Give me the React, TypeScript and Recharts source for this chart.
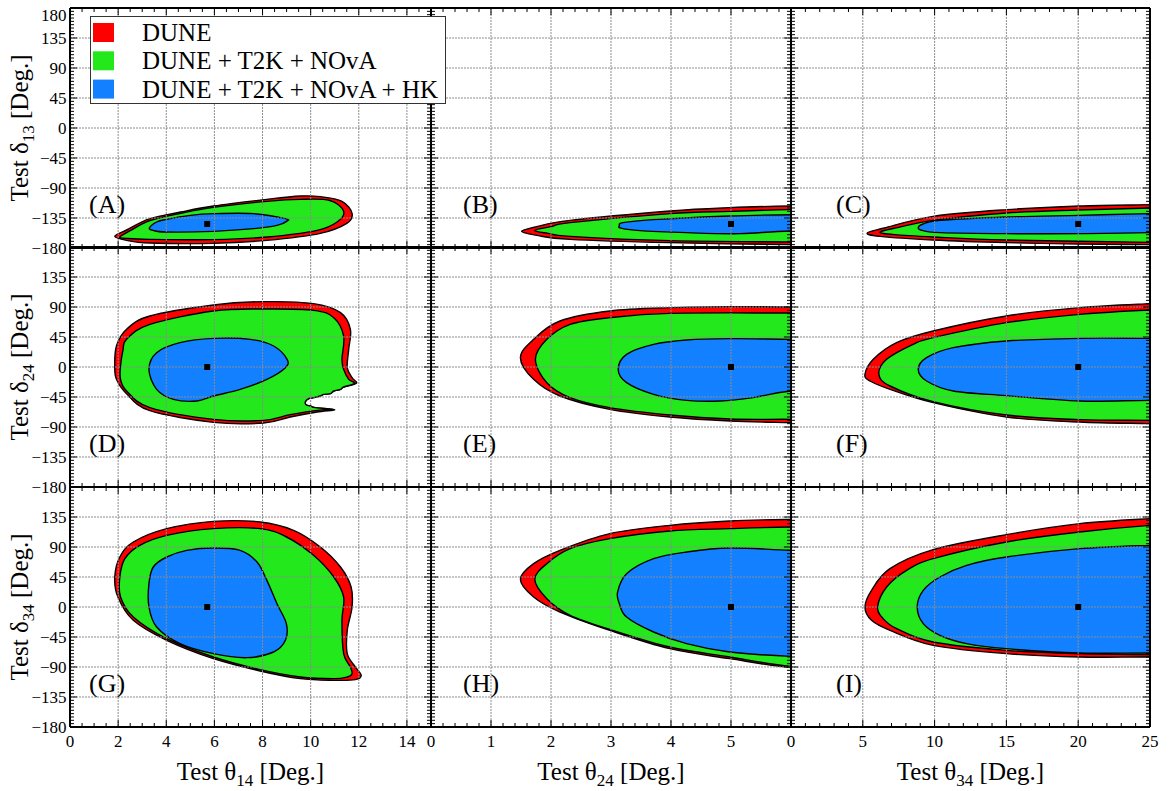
import React from 'react';
import { ComposedChart, Scatter, XAxis, YAxis, CartesianGrid } from 'recharts';

type P = [number, number];

// ---------- tick labels ----------
const X14_MAJOR = [0, 2, 4, 6, 8, 10, 12, 14];
const X14_LABELS = [0, 2, 4, 6, 8, 10, 12, 14];
const X24_MAJOR = [0, 1, 2, 3, 4, 5, 6];
const X24_LABELS = [0, 1, 2, 3, 4, 5];
const X34_MAJOR = [0, 5, 10, 15, 20, 25];
const X34_LABELS = [0, 5, 10, 15, 20, 25];
const Y_MAJOR = [-180, -135, -90, -45, 0, 45, 90, 135, 180];
const Y_LABELS_TOP = [180, 135, 90, 45, 0, -45, -90, -135, -180];
const Y_LABELS_REST = [135, 90, 45, 0, -45, -90, -135, -180];
const NO_LABELS: number[] = [];

// ---------- panel (A): theta14 vs delta13 ----------
const A_DUNE: P[] = [[1.86, -162.5], [2.35, -153], [3.32, -136], [4.6, -126], [5.96, -117], [8.18, -107], [9.57, -102], [10.4, -103], [11.3, -110], [11.72, -128], [11.5, -143], [10.4, -158], [8.18, -168.5], [5.96, -173], [3.32, -172.5], [2.35, -168.5]];
const A_DTN: P[] = [[2.07, -163.5], [2.5, -154], [3.32, -139], [4.6, -128], [5.96, -119], [8.18, -110], [9.57, -107], [10.8, -108.7], [11.37, -125], [11.1, -141], [10.27, -153.5], [8.18, -163.5], [5.96, -167.5], [3.32, -167], [2.35, -165.5]];
const A_DTNH: P[] = [[3.3, -150], [3.6, -141], [4.0, -137], [5.0, -131], [5.96, -128.5], [7.63, -128.5], [8.95, -136], [9.0, -140], [8.6, -146], [7.63, -151], [5.96, -155], [4.0, -156], [3.45, -153.5]];
const A_BEST: P[] = [[5.7, -144]];

// ---------- panel (B): theta24 vs delta13 ----------
const B_DUNE: P[] = [[1.51, -155], [1.76, -148], [2.32, -138.5], [3.98, -124.5], [4.98, -119.5], [6, -117], [7.5, -115.5], [7.5, -176], [6, -175], [3.98, -172], [2.32, -167], [1.76, -161]];
const B_DTN: P[] = [[1.73, -153.5], [2.0, -148], [2.32, -142], [3.98, -128.5], [4.98, -125], [6, -122.5], [7.5, -121], [7.5, -172], [6, -171], [3.98, -169], [2.32, -162.5], [1.95, -158]];
const B_DTNH: P[] = [[3.14, -146.5], [3.2, -142], [3.7, -137.5], [4.98, -132], [6, -130], [7.5, -129], [7.5, -154], [6, -154.5], [5.15, -158.5], [4.26, -157], [3.43, -153.5], [3.16, -150]];
const B_BEST: P[] = [[5, -144]];

// ---------- panel (C): theta34 vs delta13 ----------
const C_DUNE: P[] = [[5.31, -157.5], [6.5, -150], [9.9, -132.5], [15, -122.5], [20.1, -117], [25, -115], [30, -113.5], [30, -176], [25, -175], [20, -174], [15, -172], [9.9, -168], [6.2, -162.5]];
const C_DTN: P[] = [[6.2, -156], [7.5, -149], [9.9, -138.5], [15, -127.5], [20, -123], [25, -120], [30, -118.5], [30, -172.5], [25, -171.5], [15, -168], [9.9, -163.5], [7.2, -160]];
const C_DTNH: P[] = [[8.86, -150], [9.2, -144], [10.4, -138.5], [15, -133.5], [20, -131], [25, -128.5], [30, -127], [30, -157], [25, -157], [20.5, -158.5], [15, -158.5], [10.4, -157], [9.2, -154]];
const C_BEST: P[] = [[20, -144]];

// ---------- panel (D): theta14 vs delta24 ----------
const D_DUNE: P[] = [[1.86, 1.5], [1.93, 31.5], [2.35, 56.5], [3.32, 76.5], [5.96, 93], [8.04, 98], [10.12, 95], [11.24, 81.5], [11.65, 56.5], [11.58, 26.5], [11.52, -1], [11.72, -16], [11.9, -24.5], [11.37, -30], [11.24, -33.5], [10.96, -36], [10.82, -40], [10.54, -41], [10.4, -43.5], [10.12, -46], [9.92, -47.5], [9.78, -52], [9.82, -57], [9.99, -58.5], [10.2, -61], [11.0, -64], [10.27, -67.5], [9.15, -75], [8.04, -84], [5.96, -83], [3.32, -65.5], [2.35, -40], [1.93, -18.5]];
const D_DTN: P[] = [[2.1, 1.5], [2.2, 25], [2.35, 41.5], [3.32, 64], [5.96, 84], [8.04, 87], [10.12, 85], [10.96, 74], [11.37, 46.5], [11.3, 11.5], [11.37, -3.5], [11.58, -18.5], [11.82, -24.5], [11.37, -30], [11.24, -33.5], [10.96, -36], [10.82, -40], [10.54, -41], [10.4, -43.5], [10.12, -46], [9.92, -47.5], [9.78, -52], [9.82, -57], [9.99, -58.5], [10.2, -61], [10.9, -63.5], [10.27, -65], [9.15, -71.5], [8.04, -80], [5.96, -78.5], [3.32, -61], [2.35, -36], [2.1, -18.5]];
const D_DTNH: P[] = [[3.28, -3.5], [3.6, 21.5], [4.57, 36.5], [5.96, 43], [7.49, 41.5], [8.46, 31.5], [9.02, 11.5], [8.95, -1], [8.18, -18.5], [7.07, -33.5], [5.96, -43.5], [5.27, -51], [4.3, -48.5], [3.6, -33.5]];
const D_BEST: P[] = [[5.7, 0]];

// ---------- panel (E): theta24 vs delta24 ----------
const E_DUNE: P[] = [[1.49, 14], [1.71, 41.5], [2.15, 69], [2.98, 84], [3.98, 89], [4.98, 90.5], [6, 90], [7.5, 90], [7.5, -86], [6, -83.5], [4.98, -81], [3.98, -75], [2.98, -63.5], [2.15, -43.5], [1.71, -18.5]];
const E_DTN: P[] = [[1.74, 11.5], [1.93, 41.5], [2.32, 64], [2.98, 74], [3.98, 80.5], [6, 81], [7.5, 81], [7.5, -79], [6, -78.5], [4.98, -78], [3.98, -72], [2.98, -61], [2.32, -46], [1.93, -23.5]];
const E_DTNH: P[] = [[3.12, -3.5], [3.26, 19], [3.71, 34], [4.26, 40.5], [4.98, 42.5], [6, 41.5], [7.5, 40], [7.5, -28], [6, -36], [5.37, -46], [4.82, -51], [4.26, -50], [3.71, -41], [3.26, -23.5]];
const E_BEST: P[] = [[5, 0]];

// ---------- panel (F): theta34 vs delta24 ----------
const F_DUNE: P[] = [[5.15, -11], [5.73, 11.5], [7.35, 36.5], [9.9, 54], [15, 76.5], [20.1, 89], [25, 95], [30, 99], [30, -87], [25, -85], [20.1, -82.5], [15, -75], [9.9, -53.5], [6.9, -33.5], [5.5, -21]];
const F_DTN: P[] = [[6.12, -11], [6.66, 11.5], [8.5, 34], [9.9, 44], [15, 66.5], [20.1, 79], [25, 85.5], [30, 89], [30, -81], [25, -80], [20.1, -79], [15, -72], [9.9, -52], [6.9, -28.5]];
const F_DTNH: P[] = [[8.86, -3.5], [9.44, 14], [11.3, 29], [15, 39], [20.1, 43], [25, 43], [30, 43], [30, -50], [25, -50], [20.1, -51], [15, -43], [11.3, -36], [9.44, -21]];
const F_BEST: P[] = [[20, 0]];

// ---------- panel (G): theta14 vs delta34 ----------
const G_DUNE: P[] = [[1.86, 45], [2.07, 75], [2.63, 97.5], [4.02, 117.5], [5.96, 128.5], [7.9, 127.5], [9.29, 115], [10.4, 90], [11.24, 60], [11.68, 30], [11.72, 0], [11.52, -35], [11.52, -70], [11.86, -90], [12.1, -102.5], [11.86, -109], [10.96, -110], [9.57, -107.5], [7.9, -96], [5.96, -77.5], [4.02, -50], [2.63, -20], [1.99, 15]];
const G_DTN: P[] = [[2.07, 45], [2.28, 72.5], [2.9, 92.5], [4.02, 107.5], [5.96, 117.5], [7.9, 117.5], [9.0, 105], [10.12, 77.5], [10.96, 45], [11.37, 15], [11.3, -20], [11.37, -70], [11.65, -90], [11.72, -100], [11.52, -105], [10.96, -107.5], [9.57, -105], [7.9, -94], [5.96, -75], [4.02, -47.5], [2.63, -15], [2.1, 15]];
const G_DTNH: P[] = [[3.28, 35], [3.46, 60], [4.02, 75], [4.85, 85], [5.96, 88.5], [7.07, 85], [7.77, 67.5], [8.18, 40], [8.6, 5], [8.99, -25], [8.95, -50], [8.46, -67.5], [7.35, -76], [5.96, -70], [4.57, -55], [3.6, -30], [3.28, 0]];
const G_BEST: P[] = [[5.7, 0]];

// ---------- panel (H): theta24 vs delta34 ----------
const H_DUNE: P[] = [[1.49, 41.5], [1.71, 65], [2.15, 85], [2.98, 110], [3.98, 122.5], [4.98, 129], [6, 131.5], [7.5, 133], [7.5, -100], [6, -91], [4.98, -77.5], [3.98, -62.5], [2.98, -35], [2.15, -7.5], [1.71, 15]];
const H_DTN: P[] = [[1.73, 41.5], [1.93, 65], [2.32, 87.5], [2.98, 102.5], [3.98, 114], [4.98, 117.5], [6, 120], [7.5, 121], [7.5, -98], [6, -89], [4.98, -75], [3.98, -60], [2.98, -33.5], [2.32, -12.5], [1.93, 12.5]];
const H_DTNH: P[] = [[3.11, 22.5], [3.26, 50], [3.71, 72.5], [4.26, 82.5], [4.98, 88.5], [6, 85], [7.5, 80], [7.5, -77], [6, -74], [4.98, -67.5], [4.26, -55], [3.71, -37.5], [3.26, -15], [3.14, 5]];
const H_BEST: P[] = [[5, 0]];

// ---------- panel (I): theta34 vs delta34 ----------
const I_DUNE: P[] = [[5.15, 0], [5.61, 25], [6.89, 57.5], [9.9, 86], [15, 108.5], [20.1, 125], [25, 132.5], [30, 137], [30, -76], [25, -75], [20.1, -75], [15, -70], [9.9, -57.5], [6.89, -35], [5.61, -20]];
const I_DTN: P[] = [[6.03, 0], [6.66, 30], [8.05, 55], [9.9, 72.5], [15, 97.5], [20.1, 112.5], [25, 122.5], [30, 128], [30, -72], [25, -71.5], [20.1, -70], [15, -65], [9.9, -52.5], [7.36, -32.5], [6.42, -17.5]];
const I_DTNH: P[] = [[8.79, 0], [9.21, 25], [10.37, 45], [12.23, 62.5], [15, 75], [20.1, 87.5], [25, 92.5], [30, 95], [30, -69], [25, -69], [20.1, -69], [15, -62.5], [12.23, -55], [10.37, -42.5], [9.21, -25]];
const I_BEST: P[] = [[20, 0]];

const SERIES_NAMES = ['DUNE', 'DUNE + T2K + NOvA', 'DUNE + T2K + NOvA + HK'];
const FILLS = ['#ff0000', '#22e81c', '#1381ff'];
const FONT = "'Liberation Serif', 'Times New Roman', serif";

// ---------- layout ----------
const M = 40;
const PH = 240;
const COL_LEFT = [70, 431, 791];
const COL_W = [361, 360, 359];
const ROW_TOP = [8, 247, 487];
const TINY = 0.01;

const COLS = [
  { xMax: 15, major: X14_MAJOR, labels: X14_LABELS, minorStep: 0.5, sub: '14', labelDx: 19 },
  { xMax: 6, major: X24_MAJOR, labels: X24_LABELS, minorStep: 0.2, sub: '24', labelDx: 32 },
  { xMax: 25, major: X34_MAJOR, labels: X34_LABELS, minorStep: 1, sub: '34', labelDx: 45 },
];
const ROWS = [
  { labels: Y_LABELS_TOP, sub: '13' },
  { labels: Y_LABELS_REST, sub: '24' },
  { labels: Y_LABELS_REST, sub: '34' },
];

const PANELS = [
  { name: '(A)', row: 0, col: 0, contours: [A_DUNE, A_DTN, A_DTNH], best: A_BEST },
  { name: '(B)', row: 0, col: 1, contours: [B_DUNE, B_DTN, B_DTNH], best: B_BEST },
  { name: '(C)', row: 0, col: 2, contours: [C_DUNE, C_DTN, C_DTNH], best: C_BEST },
  { name: '(D)', row: 1, col: 0, contours: [D_DUNE, D_DTN, D_DTNH], best: D_BEST },
  { name: '(E)', row: 1, col: 1, contours: [E_DUNE, E_DTN, E_DTNH], best: E_BEST },
  { name: '(F)', row: 1, col: 2, contours: [F_DUNE, F_DTN, F_DTNH], best: F_BEST },
  { name: '(G)', row: 2, col: 0, contours: [G_DUNE, G_DTN, G_DTNH], best: G_BEST },
  { name: '(H)', row: 2, col: 1, contours: [H_DUNE, H_DTN, H_DTNH], best: H_BEST },
  { name: '(I)', row: 2, col: 2, contours: [I_DUNE, I_DTN, I_DTNH], best: I_BEST },
];

function minorTicks(min: number, max: number, step: number, majors: number[]) {
  const out: number[] = [];
  const n = Math.round((max - min) / step);
  for (let i = 0; i <= n; i++) {
    const v = Math.round((min + i * step) * 1000) / 1000;
    if (!majors.includes(v)) out.push(v);
  }
  return out;
}
const Y_MINOR = minorTicks(-180, 180, 5, Y_MAJOR);

const toXY = (pts: P[]) => pts.map(([x, y]) => ({ x, y }));

function closedPath(pts: { x: number; y: number }[]) {
  const n = pts.length;
  if (!pts || n < 3) return '';
  let d = `M${pts[0].x},${pts[0].y}`;
  for (let i = 0; i < n; i++) {
    const p0 = pts[(i - 1 + n) % n];
    const p1 = pts[i];
    const p2 = pts[(i + 1) % n];
    const p3 = pts[(i + 2) % n];
    const c1x = p1.x + (p2.x - p0.x) / 6;
    const c1y = p1.y + (p2.y - p0.y) / 6;
    const c2x = p2.x - (p3.x - p1.x) / 6;
    const c2y = p2.y - (p3.y - p1.y) / 6;
    d += `C${c1x},${c1y},${c2x},${c2y},${p2.x},${p2.y}`;
  }
  return d + 'Z';
}

const contourLine = (fill: string) => (props: any) => (
  <path d={closedPath(props.points || [])} fill={fill} stroke="#000" strokeWidth={1.4} strokeLinejoin="round" />
);
const noShape = () => <g />;
const bestShape = (props: any) => (
  <rect x={props.cx - 3} y={props.cy - 3} width={6} height={6} fill="#000" />
);

const fmt = (v: number) => (v < 0 ? '\u2212' + Math.abs(v) : String(v));

const xTick = (labels: number[]) => (props: any) => {
  const v = props.payload?.value;
  if (!labels.includes(v)) return <g />;
  return (
    <text x={props.x} y={M + PH + 19.5} textAnchor="middle" fontSize={17} fontFamily={FONT} fill="#000">
      {fmt(v)}
    </text>
  );
};
const yTick = (labels: number[]) => (props: any) => {
  const v = props.payload?.value;
  if (!labels.includes(v)) return <g />;
  const dy = v === 180 ? 6.5 : 0;
  return (
    <text x={M - 3.5} y={props.y + dy + 6} textAnchor="end" fontSize={17} fontFamily={FONT} fill="#000">
      {fmt(v)}
    </text>
  );
};
const emptyTick = () => <g />;

const AXIS_LINE = { stroke: '#000', strokeWidth: 2 };
const TICK_LINE = { stroke: '#000', strokeWidth: 1 };

function axisSet(col: number, row: number) {
  const c = COLS[col];
  const xMinor = minorTicks(0, c.xMax, c.minorStep, c.major);
  const xc = { type: 'number' as const, domain: [0, c.xMax], allowDataOverflow: true, dataKey: 'x', interval: 0 as const, tickLine: TICK_LINE };
  const yc = { type: 'number' as const, domain: [-180, 180], allowDataOverflow: true, dataKey: 'y', interval: 0 as const, tickLine: TICK_LINE };
  return [
    <XAxis key="xb" xAxisId="b" orientation="bottom" height={TINY} ticks={c.major} tickSize={-7} {...xc} axisLine={AXIS_LINE} tick={xTick(row === 2 ? c.labels : NO_LABELS)} />,
    <XAxis key="xbm" xAxisId="bm" orientation="bottom" height={TINY} ticks={xMinor} tickSize={-4} {...xc} axisLine={false} tick={emptyTick} />,
    <XAxis key="xt" xAxisId="t" orientation="top" height={TINY} ticks={c.major} tickSize={-7} {...xc} axisLine={AXIS_LINE} tick={emptyTick} />,
    <XAxis key="xtm" xAxisId="tm" orientation="top" height={TINY} ticks={xMinor} tickSize={-4} {...xc} axisLine={false} tick={emptyTick} />,
    <YAxis key="yl" yAxisId="l" orientation="left" width={TINY} ticks={Y_MAJOR} tickSize={-7} {...yc} axisLine={AXIS_LINE} tick={yTick(col === 0 ? ROWS[row].labels : NO_LABELS)} />,
    <YAxis key="ylm" yAxisId="lm" orientation="left" width={TINY} ticks={Y_MINOR} tickSize={-4} {...yc} axisLine={false} tick={emptyTick} />,
    <YAxis key="yr" yAxisId="r" orientation="right" width={TINY} ticks={Y_MAJOR} tickSize={-7} {...yc} axisLine={AXIS_LINE} tick={emptyTick} />,
    <YAxis key="yrm" yAxisId="rm" orientation="right" width={TINY} ticks={Y_MINOR} tickSize={-4} {...yc} axisLine={false} tick={emptyTick} />,
  ];
}

function Panel({ p }: { p: (typeof PANELS)[number] }) {
  const c = COLS[p.col];
  const w = COL_W[p.col] + 2 * M;
  const h = PH + 2 * M;
  const margin = { top: M, right: M, bottom: M, left: M };
  return (
    <>
      {/* layer 1: confidence regions */}
      <div style={{ position: 'absolute', left: COL_LEFT[p.col] - M, top: ROW_TOP[p.row] - M }}>
        <ComposedChart width={w} height={h} margin={margin}>
          <XAxis xAxisId="b" type="number" dataKey="x" domain={[0, c.xMax]} allowDataOverflow hide />
          <YAxis yAxisId="l" type="number" dataKey="y" domain={[-180, 180]} allowDataOverflow hide />
          {p.contours.map((pts, i) => (
            <Scatter
              key={SERIES_NAMES[i]}
              name={SERIES_NAMES[i]}
              data={toXY(pts)}
              xAxisId="b"
              yAxisId="l"
              isAnimationActive={false}
              line={contourLine(FILLS[i])}
              lineType="joint"
              shape={noShape}
            />
          ))}
        </ComposedChart>
      </div>
      {/* layer 2: grid, frame, ticks, best fit */}
      <div style={{ position: 'absolute', left: COL_LEFT[p.col] - M, top: ROW_TOP[p.row] - M }}>
        <ComposedChart width={w} height={h} margin={margin}>
          <CartesianGrid xAxisId="b" yAxisId="l" stroke="#8c8c8c" strokeDasharray="2 1" strokeWidth={1} />
          <Scatter name="best fit" data={toXY(p.best)} xAxisId="b" yAxisId="l" isAnimationActive={false} shape={bestShape} />
          {axisSet(p.col, p.row)}
        </ComposedChart>
      </div>
    </>
  );
}

export default function App() {
  return (
    <div style={{ position: 'absolute', left: 0, top: 0, width: 1169, height: 791, overflow: 'hidden', background: '#fff', fontFamily: FONT }}>
      {PANELS.map((p) => (
        <Panel key={p.name} p={p} />
      ))}
      <svg width={1169} height={791} style={{ position: 'absolute', left: 0, top: 0, pointerEvents: 'none' }} fontFamily={FONT}>
        {ROWS.map((r, i) => (
          <text key={'yt' + i} transform={`translate(28,${ROW_TOP[i] + 120}) rotate(-90)`} textAnchor="middle" fontSize={25} fill="#000">
            Test δ<tspan fontSize={17} dy={6}>{r.sub}</tspan>
            <tspan dy={-6}>{' [Deg.]'}</tspan>
          </text>
        ))}
        {COLS.map((c, i) => (
          <text key={'xt' + i} x={COL_LEFT[i] + COL_W[i] / 2} y={780} textAnchor="middle" fontSize={25} fill="#000">
            Test θ<tspan fontSize={17} dy={6}>{c.sub}</tspan>
            <tspan dy={-6}>{' [Deg.]'}</tspan>
          </text>
        ))}
        {PANELS.map((p) => (
          <text key={'pl' + p.name} x={COL_LEFT[p.col] + COLS[p.col].labelDx} y={ROW_TOP[p.row] + 205} fontSize={26} fill="#000">
            {p.name}
          </text>
        ))}
        <rect x={90.5} y={16.5} width={355} height={87} fill="#fff" stroke="#333" strokeWidth={1} />
        {SERIES_NAMES.map((s, i) => (
          <g key={s}>
            <rect x={93} y={23 + i * 28.3} width={21} height={19} fill={FILLS[i]} />
            <text x={142} y={40.5 + i * 28.5} fontSize={25} fill="#000">
              {s}
            </text>
          </g>
        ))}
      </svg>
    </div>
  );
}
